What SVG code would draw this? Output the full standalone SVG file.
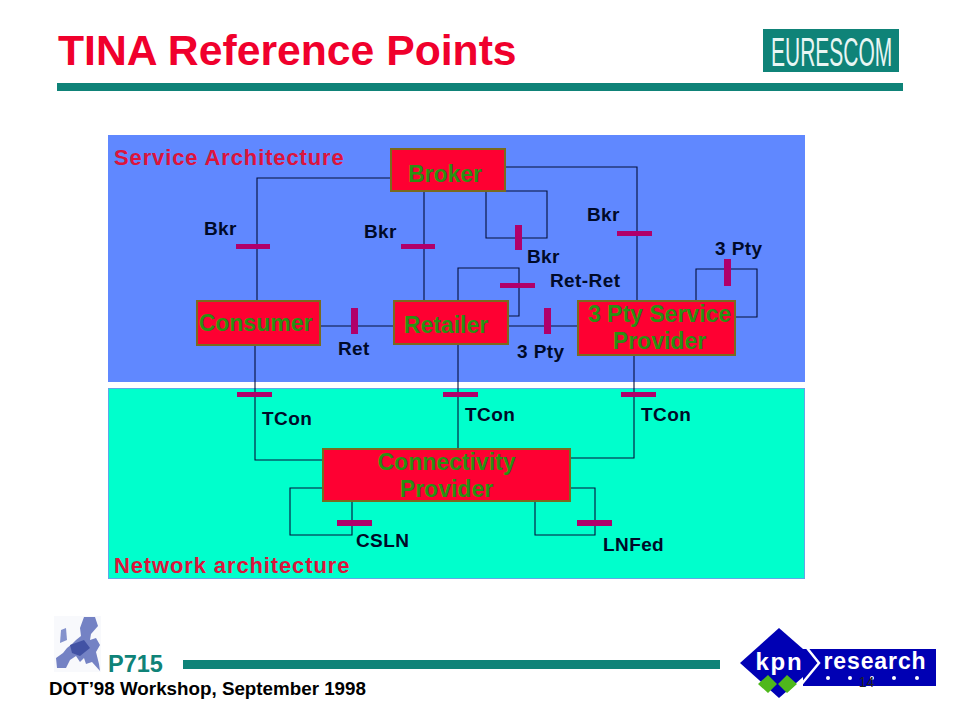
<svg xmlns="http://www.w3.org/2000/svg" width="960" height="720" viewBox="0 0 960 720">
<defs><style>
text{font-family:"Liberation Sans",Arial,sans-serif;font-weight:bold}
.lb{font-size:19px;letter-spacing:0.4px;fill:#000a28}
.nd{fill:#fe0032;stroke:#7a6a1e;stroke-width:2}
.nt{font-size:23px;fill:#2a9012;text-anchor:middle}
.ln{fill:none;stroke:#04103a;stroke-width:1.1}
.tick{fill:#b0006a}
.rg{font-size:22px;letter-spacing:0.87px;fill:#dc143c}
</style></defs>
<rect width="960" height="720" fill="#fff"/>
<text x="58" y="65" font-size="42.7" fill="#f0002c">TINA Reference Points</text>
<g id="eurescom"><rect x="763" y="29" width="136" height="43" fill="#0f8378"/>
<text transform="translate(771 66) scale(0.525 1)" font-size="40" fill="#e8f6f4" style="font-weight:normal">EURESCOM</text></g>
<rect x="57" y="83" width="846" height="8" fill="#0f8378"/>
<rect x="108" y="135" width="697" height="247" fill="#6088ff"/>
<rect x="108.500" y="388.500" width="696" height="190" fill="#00ffcc" stroke="#5fa8e8" stroke-width="1"/>
<text class="rg" x="114" y="165">Service Architecture</text>
<text class="rg" x="114" y="573">Network architecture</text>
<g id="connectors">
<path class="ln" d="M390 178H257V300M424 191V301M506 167H637V300M486 191V238H547V191H506"/>
<path class="ln" d="M458 301V268H519V316H508M508 326H578M321 326H393M696 300V269H757V317H736"/>
<path class="ln" d="M255 345V460H322M458 345V448M634 356V458H571M322 488H290V535H352V501M571 488H595V535H535V501"/>
<g class="tick">
<rect x="236" y="244" width="34" height="5"/><rect x="401" y="244" width="34" height="5"/><rect x="617" y="231" width="35" height="5"/>
<rect x="515" y="225" width="7" height="25"/><rect x="500" y="283" width="35" height="5"/><rect x="724" y="259" width="7" height="27"/>
<rect x="351" y="308" width="7" height="26"/><rect x="544" y="308" width="7" height="26"/>
<rect x="237" y="392" width="35" height="5"/><rect x="443" y="392" width="35" height="5"/><rect x="621" y="392" width="35" height="5"/>
<rect x="337" y="520" width="35" height="6"/><rect x="577" y="520" width="35" height="6"/>
</g></g>
<g id="broker"><rect class="nd" x="391" y="149" width="114" height="42"/><text class="nt" x="445" y="182">Broker</text></g>
<g id="consumer"><rect class="nd" x="197" y="301" width="123" height="44"/><text class="nt" x="255.500" y="331">Consumer</text></g>
<g id="retailer"><rect class="nd" x="394" y="301" width="114" height="43"/><text class="nt" x="446" y="333">Retailer</text></g>
<g id="tps"><rect class="nd" x="578" y="301" width="157" height="54"/><text class="nt" x="659.500" y="322">3 Pty Service</text><text class="nt" x="659.500" y="349">Provider</text></g>
<g id="cp"><rect class="nd" x="323" y="449" width="247" height="52"/><text class="nt" x="446.500" y="470">Connectivity</text><text class="nt" x="446.500" y="497">Provider</text></g>
<text class="lb" x="204" y="235">Bkr</text><text class="lb" x="364" y="238">Bkr</text><text class="lb" x="587" y="221">Bkr</text><text class="lb" x="527" y="263">Bkr</text>
<text class="lb" x="715" y="255">3 Pty</text><text class="lb" x="550" y="287">Ret-Ret</text><text class="lb" x="338" y="355">Ret</text><text class="lb" x="517" y="358">3 Pty</text>
<text class="lb" x="262" y="425">TCon</text><text class="lb" x="465" y="421">TCon</text><text class="lb" x="641" y="421">TCon</text>
<text class="lb" x="356" y="547">CSLN</text><text class="lb" x="603" y="551">LNFed</text>
<g id="map"><rect x="54" y="616" width="47" height="56" fill="#f8f9fc"/>
<path d="M84 617L95 617L98 626L91 634L90 640L96 638L100 645L96 652L99 664L100 671L92 662L86 664L84 658L80 662L76 656L70 660L66 668L57 668L56 658L63 653L67 648L72 644L76 640L81 636L80 628Z" fill="#7482c4"/>
<path d="M61 630L66 628L67 640L60 643Z" fill="#8492cc"/>
<path d="M70 645L84 640L90 648L80 656L72 653Z" fill="#4252a4"/></g>
<text x="108" y="672" font-size="23.500" fill="#0f8378">P715</text>
<rect x="183" y="660" width="537" height="9" fill="#0f8378"/>
<text x="49" y="695" font-size="18.800" fill="#000">DOT’98 Workshop, September 1998</text>
<g id="kpn">
<rect x="803" y="649" width="133" height="37" fill="#0000b4"/>
<path d="M779 628L819 663L779 698L740 663Z" fill="#0000b4"/>
<path d="M807 648L819 663L800 686" fill="none" stroke="#fff" stroke-width="2.500"/>
<path d="M768 675L777 684L768 693L758 684ZM787 675L797 684L787 693L778 684Z" fill="#4fb81c"/>
<text x="779.500" y="670" font-size="24" fill="#fff" text-anchor="middle" letter-spacing="1.800">kpn</text>
<text x="875" y="669" font-size="23" fill="#fff" text-anchor="middle" letter-spacing="0.900">research</text>
<g fill="#fff"><circle cx="828" cy="678" r="2"/><circle cx="850" cy="678" r="2"/><circle cx="872" cy="678" r="2"/><circle cx="894" cy="678" r="2"/><circle cx="917" cy="678" r="2"/></g>
<text x="866.500" y="687" font-size="14" fill="#222" text-anchor="middle" style="font-weight:normal">14</text>
</g>
</svg>
